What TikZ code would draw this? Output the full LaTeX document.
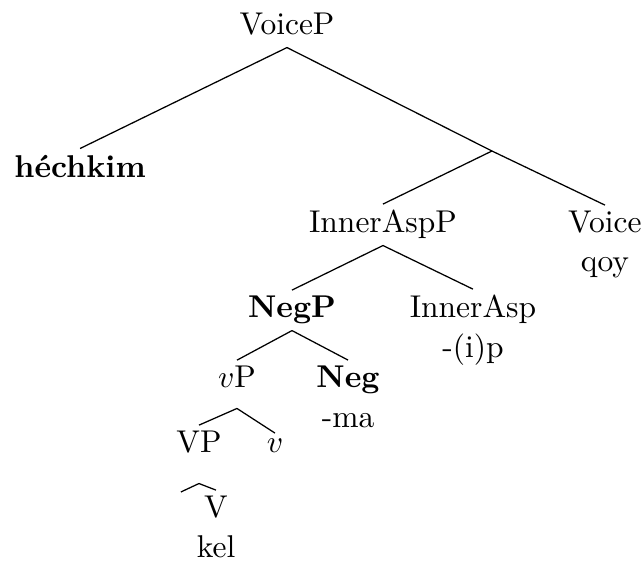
\documentclass[tikz,border=0pt]{standalone}
\usepackage{amsmath, amssymb}
\usepackage{tikz}

\begin{document}
\begin{tikzpicture}[
    cat/.style={anchor=base, inner xsep=2pt, inner ysep=1.8pt, text depth=2pt},
    gloss/.style={anchor=base, inner sep=1.8pt},
    branch/.style={line width=0.4pt}
]
\useasboundingbox (0,0) rectangle (7.163,6.259);

\node[cat] (voicep) at (3.202,5.869) {VoiceP};
\node[cat] (hechkim) at (0.893,4.284) {\textbf{héchkim}};
\coordinate (voicebar) at (5.489,4.574);
\node[cat] (innerasppp) at (4.273,3.660) {InnerAspP};
\node[cat] (voice) at (6.750,3.660) {Voice};
\node[gloss] (qoy) at ([yshift=-12.4pt]voice.base) {qoy};
\node[cat] (negp) at (3.258,2.711) {\textbf{NegP}};
\node[cat] (innerasp) at (5.277,2.711) {InnerAsp};
\node[gloss] (ip) at ([yshift=-12.4pt]innerasp.base) {-(i)p};
\node[cat] (littlevp) at (2.644,1.930) {$v$P};
\node[cat] (neg) at (3.883,1.930) {\textbf{Neg}};
\node[gloss] (ma) at ([yshift=-12.4pt]neg.base) {-ma};
\node[cat] (vp) at (2.220,1.205) {VP};
\node[cat] (littlev) at (3.068,1.205) {$v$};
\coordinate (vpspec) at (2.019,0.770);
\node[cat] (verb) at (2.410,0.480) {V};
\node[gloss] (kel) at ([yshift=-12.4pt]verb.base) {kel};

\draw[branch] (voicep.south) -- (hechkim.north);
\draw[branch] (voicep.south) -- (voicebar);
\draw[branch] (voicebar) -- (innerasppp.north);
\draw[branch] (voicebar) -- (voice.north);
\draw[branch] (innerasppp.south) -- (negp.north);
\draw[branch] (innerasppp.south) -- (innerasp.north);
\draw[branch] (negp.south) -- (littlevp.north);
\draw[branch] (negp.south) -- (neg.north);
\draw[branch] ([yshift=-2.5pt]littlevp.south) -- (vp.north);
\draw[branch] ([yshift=-2.5pt]littlevp.south) -- (littlev.north);
\draw[branch] ([yshift=-5.7pt]vp.south) -- (vpspec);
\draw[branch] ([yshift=-5.7pt]vp.south) -- (verb.north);

\end{tikzpicture}
\end{document}
